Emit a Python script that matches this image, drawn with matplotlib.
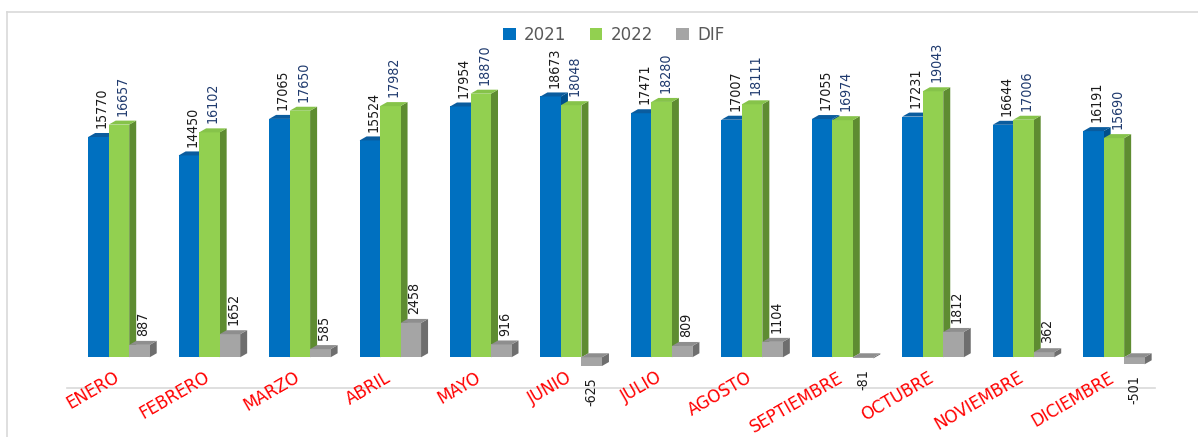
import matplotlib
matplotlib.use("Agg")
import matplotlib.pyplot as plt
from matplotlib.patches import Polygon, Patch
from matplotlib.lines import Line2D
import numpy as np

months = ["ENERO", "FEBRERO", "MARZO", "ABRIL", "MAYO", "JUNIO", "JULIO",
          "AGOSTO", "SEPTIEMBRE", "OCTUBRE", "NOVIEMBRE", "DICIEMBRE"]
v2021 = [15770, 14450, 17065, 15524, 17954, 18673, 17471, 17007, 17055, 17231, 16644, 16191]
v2022 = [16657, 16102, 17650, 17982, 18870, 18048, 18280, 18111, 16974, 19043, 17006, 15690]
vdif = [887, 1652, 585, 2458, 916, -625, 809, 1104, -81, 1812, 362, -501]
series_names = ["2021", "2022", "DIF"]

W, H = 1198, 437
fig = plt.figure(figsize=(W / 100, H / 100), dpi=100)
fig.patch.set_facecolor("white")

px_left, px_right = 67.4, 1154.6
px_bottom, px_top = 388.0, 40.2
ax = fig.add_axes([px_left / W, 1 - px_bottom / H, (px_right - px_left) / W, (px_bottom - px_top) / H])
ymin, ymax = -2200, 22700
xmin, xmax = -0.57, 11.45
ax.set_xlim(xmin, xmax)
ax.set_ylim(ymin, ymax)
for s in ["top", "right", "left"]:
    ax.spines[s].set_visible(False)
ax.spines["bottom"].set_color("#D9D9D9")
ax.spines["bottom"].set_linewidth(1.2)
ax.set_xticks([])
ax.set_yticks([])

ppx = (px_right - px_left) / (xmax - xmin)
ppy = (px_bottom - px_top) / (ymax - ymin)
w = 20.5 / ppx
dx = 7 / ppx
dy = 4 / ppy

x = np.arange(len(months))
front = ["#0070C0", "#92D050", "#A5A5A5"]
side = ["#00508C", "#5E8C31", "#6E6E6E"]
topc = ["#0A5C9E", "#86C34A", "#8E8E8E"]
lblc = ["#1A1A1A", "#1F3A6E", "#1A1A1A"]
offsets = [-w, 0.0, w]
narrow = ["Liberation Sans Narrow", "DejaVu Sans"]

for k, vals in enumerate([v2021, v2022, vdif]):
    xs = x + offsets[k]
    z = 2 + k * 2
    ax.bar(xs, vals, width=w, color=front[k], zorder=z, linewidth=0)
    for xi, v in zip(xs, vals):
        xl, xr = xi - w / 2, xi + w / 2
        t, b = max(0, v), min(0, v)
        ax.add_patch(Polygon([(xr, b), (xr, t), (xr + dx, t + dy), (xr + dx, b + dy)],
                             closed=True, color=side[k], zorder=z - 0.5, lw=0))
        ax.add_patch(Polygon([(xl, t), (xr, t), (xr + dx, t + dy), (xl + dx, t + dy)],
                             closed=True, color=topc[k], zorder=z + 0.5, lw=0))
        if v >= 0:
            ax.annotate(str(v), (xi + dx / 2, t + dy), xytext=(0, 3.5), textcoords="offset points",
                        rotation=90, ha="center", va="bottom", fontsize=10.2,
                        family=narrow, fontstretch="condensed", color=lblc[k], zorder=10)
        else:
            ax.annotate(str(v), (xi, v), xytext=(0, -8), textcoords="offset points",
                        rotation=90, ha="center", va="top", fontsize=10.2,
                        family=narrow, fontstretch="condensed", color=lblc[k], zorder=10)

for i, m in enumerate(months):
    ax.annotate(m, (i, 0), xytext=(-4, -8), textcoords="offset points",
                rotation=30, rotation_mode="anchor", ha="right", va="top",
                fontsize=12, color="#FF0000", annotation_clip=False)

handles = [Patch(facecolor=c, edgecolor="none") for c in front]
fig.legend(handles, series_names, loc="center", bbox_to_anchor=(614 / W, 1 - 35 / H),
           ncol=3, frameon=False, handlelength=0.75, handleheight=0.75, handletextpad=0.5,
           columnspacing=1.4, prop={"size": 12}, labelcolor="#595959")

fig.add_artist(Line2D([7 / W, 1.0], [1 - 12 / H, 1 - 12 / H], transform=fig.transFigure,
                      color="#D9D9D9", lw=1.2))
fig.add_artist(Line2D([7 / W, 7 / W], [0, 1 - 12 / H], transform=fig.transFigure,
                      color="#D9D9D9", lw=1.2))

fig.savefig("out.png", dpi=100, facecolor="white")
